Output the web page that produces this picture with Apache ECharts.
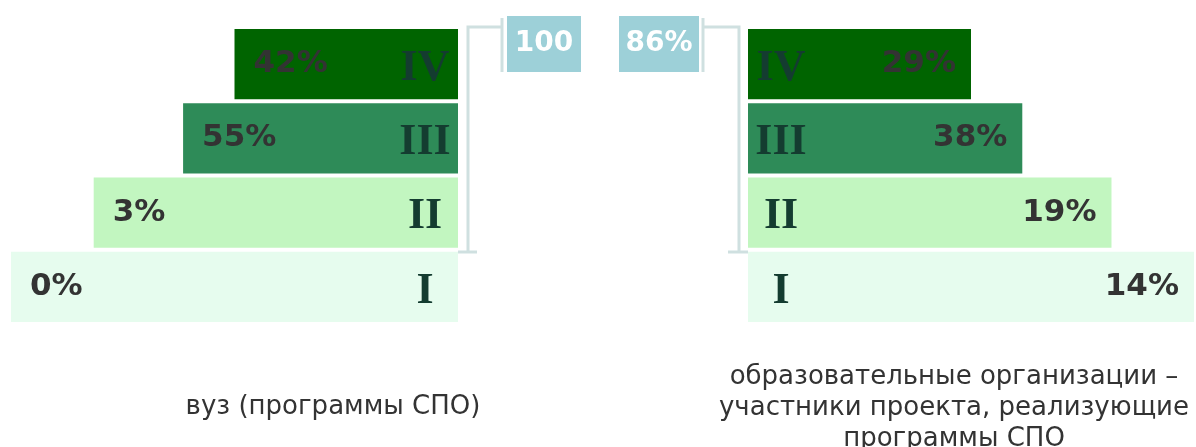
<!DOCTYPE html>
<html>
<head>
<meta charset="utf-8">
<script src="https://cdn.jsdelivr.net/npm/echarts@6/dist/echarts.min.js"></script>
<style>
  html, body { margin: 0; padding: 0; background: #fff; }
  #chart { width: 1196px; height: 447px; }
</style>
</head>
<body>
<div id="chart"></div>
<script>
// levels, bottom to top
var levels = ['I', 'II', 'III', 'IV']
// shares per level, %
var leftShare = [0, 3, 55, 42]     // вуз (программы СПО)
var rightShare = [14, 19, 38, 29]  // образовательные организации
// pyramid step length (relative, I = full width)
var stepLength = [100, 81.5, 61.5, 50]
var leftTotal = '100'
var rightTotal = '86%'

var colorList = ['#e6fcee', '#c2f6c0', '#2e8b58', '#006400']

var myChart = echarts.init(document.getElementById('chart'))

function barData(share) {
  return stepLength.map(function (v, i) {
    return { value: v, share: share[i], itemStyle: { color: colorList[i] } }
  })
}

var labelStyle = {
  show: true,
  fontFamily: 'DejaVu Sans',
  fontWeight: 'bold',
  fontSize: 31,
  color: '#333',
  formatter: function (p) { return p.data.share + '%' }
}

var yAxisBase = {
  type: 'category',
  data: levels,
  z: 10,
  axisLine: { show: false },
  axisTick: { show: false },
  axisLabel: {
    inside: true,
    align: 'center',
    margin: 33,
    formatter: function (v) { return '{r|' + v + '}' },
    rich: {
      r: {
        padding: [9, 0, 0, 0],
        fontFamily: 'Liberation Serif',
        fontWeight: 'bold',
        fontSize: 44,
        color: '#143c30'
      }
    }
  }
}

var lineStyle = { stroke: '#cfe0e0', lineWidth: 3 }

var option = {
  animation: false,
  backgroundColor: '#fff',
  title: [
    {
      text: 'вуз (программы СПО)',
      left: 328, top: 389, textAlign: 'center',
      textStyle: { fontFamily: 'DejaVu Sans', fontWeight: 'normal', fontSize: 26, color: '#333' }
    },
    {
      text: 'образовательные организации –\nучастники проекта, реализующие\nпрограммы СПО',
      left: 949, top: 357, textAlign: 'center',
      textStyle: { fontFamily: 'DejaVu Sans', fontWeight: 'normal', fontSize: 26, color: '#333', lineHeight: 31 }
    }
  ],
  grid: [
    { left: 11, width: 447, top: 27, height: 297 },
    { left: 748, width: 446, top: 27, height: 297 }
  ],
  xAxis: [
    { gridIndex: 0, type: 'value', min: 0, max: 100, inverse: true, show: false },
    { gridIndex: 1, type: 'value', min: 0, max: 100, show: false }
  ],
  yAxis: [
    Object.assign({ gridIndex: 0, position: 'right' }, yAxisBase),
    Object.assign({ gridIndex: 1, position: 'left' }, yAxisBase)
  ],
  series: [
    {
      type: 'bar',
      xAxisIndex: 0, yAxisIndex: 0,
      barCategoryGap: '5.5%',
      data: barData(leftShare),
      label: Object.assign({ position: 'insideLeft', distance: 19 }, labelStyle)
    },
    {
      type: 'bar',
      xAxisIndex: 1, yAxisIndex: 1,
      barCategoryGap: '5.5%',
      data: barData(rightShare),
      label: Object.assign({ position: 'insideRight', distance: 15 }, labelStyle)
    }
  ],
  graphic: [
    // left bracket
    { type: 'polyline', shape: { points: [[458, 252], [477, 252]] }, style: lineStyle },
    { type: 'polyline', shape: { points: [[468, 252], [468, 27], [502, 27]] }, style: lineStyle },
    { type: 'line', shape: { x1: 502, y1: 18, x2: 502, y2: 72 }, style: lineStyle },
    { type: 'rect', shape: { x: 507, y: 16, width: 74, height: 56 }, style: { fill: '#9dd0d8' } },
    {
      type: 'text', x: 544, y: 44,
      style: { text: leftTotal, fill: '#fff', font: 'bold 28px "DejaVu Sans"', textAlign: 'center', textVerticalAlign: 'middle' }
    },
    // right bracket
    { type: 'line', shape: { x1: 703, y1: 18, x2: 703, y2: 72 }, style: lineStyle },
    { type: 'polyline', shape: { points: [[703, 27], [739, 27], [739, 252]] }, style: lineStyle },
    { type: 'polyline', shape: { points: [[728, 252], [748, 252]] }, style: lineStyle },
    { type: 'rect', shape: { x: 619, y: 16, width: 80, height: 56 }, style: { fill: '#9dd0d8' } },
    {
      type: 'text', x: 659, y: 44,
      style: { text: rightTotal, fill: '#fff', font: 'bold 28px "DejaVu Sans"', textAlign: 'center', textVerticalAlign: 'middle' }
    }
  ]
}

myChart.setOption(option)
window.addEventListener('resize', function () {
  myChart.resize()
})
</script>
</body>
</html>
